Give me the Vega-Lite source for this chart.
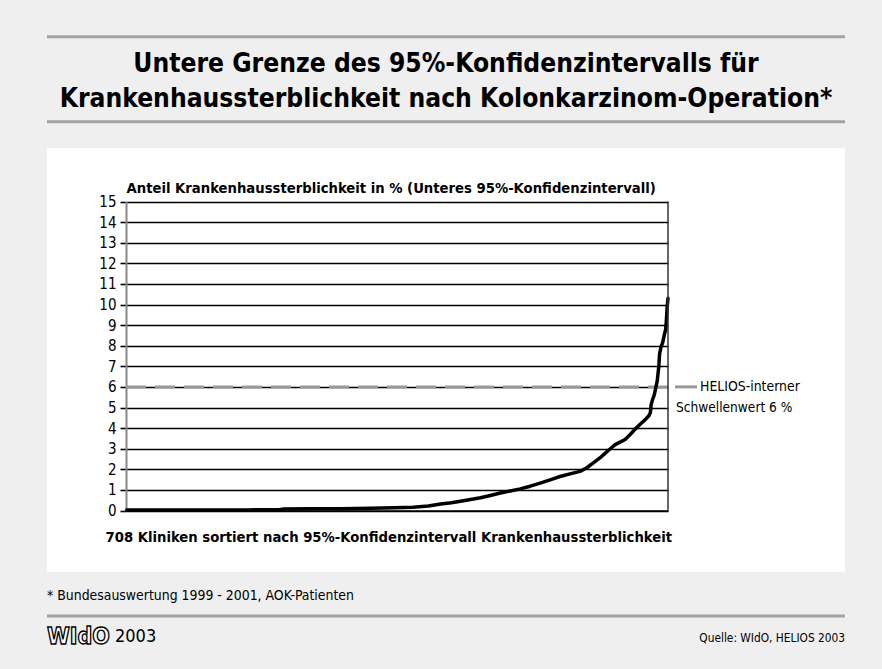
{
  "$schema": "https://vega.github.io/schema/vega-lite/v6.json",
  "width": 798,
  "height": 424,
  "autosize": {"type": "none"},
  "padding": {"left": 47, "top": 148, "right": 37, "bottom": 97},
  "background": "#efefef",
  "config": {
    "view": {"fill": "white", "stroke": null},
    "font": "Liberation Sans Narrow, DejaVu Sans Condensed, Arial Narrow, sans-serif",
    "text": {"font": "Liberation Sans Narrow, DejaVu Sans Condensed, Arial Narrow, sans-serif", "color": "black"},
    "axisY": {
      "tickCount": 16,
      "labelOverlap": false,
      "grid": true, "gridColor": "black", "gridWidth": 1.6, "gridOpacity": 1,
      "domainColor": "#888888", "domainWidth": 2,
      "tickColor": "black", "tickSize": 6, "tickWidth": 1.6,
      "labelFontSize": 15, "labelColor": "black", "labelPadding": 4,
      "titleAngle": 0, "titleAlign": "left", "titleBaseline": "alphabetic",
      "titleX": 0, "titleY": 44,
      "titleFontSize": 14.7, "titleFontWeight": "bold", "titleColor": "black"
    },
    "axisX": {
      "ticks": false, "labels": false, "grid": false,
      "domainColor": "black", "domainWidth": 1.6,
      "titleX": 58, "titleY": 31, "titleAlign": "left", "titleBaseline": "alphabetic",
      "titleFontSize": 14.7, "titleFontWeight": "bold", "titleColor": "black"
    }
  },
  "datasets": {
    "curve": [
      {"klinik": 1, "wert": 0.02}, {"klinik": 40, "wert": 0.02}, {"klinik": 80, "wert": 0.03},
      {"klinik": 120, "wert": 0.03}, {"klinik": 160, "wert": 0.03}, {"klinik": 200, "wert": 0.04},
      {"klinik": 206, "wert": 0.07}, {"klinik": 240, "wert": 0.08}, {"klinik": 280, "wert": 0.09},
      {"klinik": 320, "wert": 0.11}, {"klinik": 350, "wert": 0.13}, {"klinik": 375, "wert": 0.16},
      {"klinik": 395, "wert": 0.22}, {"klinik": 411, "wert": 0.32}, {"klinik": 425, "wert": 0.38},
      {"klinik": 437, "wert": 0.45}, {"klinik": 450, "wert": 0.53}, {"klinik": 463, "wert": 0.62},
      {"klinik": 476, "wert": 0.73}, {"klinik": 489, "wert": 0.85}, {"klinik": 502, "wert": 0.95},
      {"klinik": 515, "wert": 1.05}, {"klinik": 528, "wert": 1.18}, {"klinik": 541, "wert": 1.33},
      {"klinik": 554, "wert": 1.49}, {"klinik": 567, "wert": 1.65}, {"klinik": 580, "wert": 1.78},
      {"klinik": 593, "wert": 1.9}, {"klinik": 601, "wert": 2.05}, {"klinik": 610, "wert": 2.3},
      {"klinik": 619, "wert": 2.55}, {"klinik": 625, "wert": 2.75}, {"klinik": 631, "wert": 2.95},
      {"klinik": 639, "wert": 3.2}, {"klinik": 646, "wert": 3.33}, {"klinik": 652, "wert": 3.45},
      {"klinik": 659, "wert": 3.7}, {"klinik": 665, "wert": 3.95}, {"klinik": 672, "wert": 4.2},
      {"klinik": 678, "wert": 4.4}, {"klinik": 683, "wert": 4.6}, {"klinik": 685, "wert": 4.75},
      {"klinik": 686, "wert": 5.15}, {"klinik": 688, "wert": 5.4}, {"klinik": 690, "wert": 5.6},
      {"klinik": 692, "wert": 5.95}, {"klinik": 694, "wert": 6.3}, {"klinik": 696, "wert": 7.0},
      {"klinik": 697, "wert": 7.6}, {"klinik": 699, "wert": 7.95}, {"klinik": 701, "wert": 8.15},
      {"klinik": 703, "wert": 8.5}, {"klinik": 705, "wert": 8.8}, {"klinik": 706, "wert": 9.3},
      {"klinik": 707, "wert": 9.9}, {"klinik": 708, "wert": 10.3}
    ],
    "one": [{}]
  },
  "layer": [
    {
      "data": {"name": "one"},
      "mark": {"type": "rule", "color": "#999999", "strokeWidth": 3, "strokeDash": [20, 9]},
      "encoding": {
        "x": {
          "datum": 0, "type": "quantitative",
          "scale": {"domain": [0, 708], "range": [79, 621], "nice": false, "zero": false},
          "axis": {
            "orient": "bottom", "offset": -61.5,
            "title": "708 Kliniken sortiert nach 95%-Konfidenzintervall Krankenhaussterblichkeit"
          }
        },
        "x2": {"datum": 708},
        "y": {
          "datum": 6, "type": "quantitative",
          "scale": {"domain": [0, 15], "range": [362.5, 53.5], "nice": false, "zero": false},
          "axis": {
            "orient": "left", "offset": -79, "tickCount": 16,
            "values": [0, 1, 2, 3, 4, 5, 6, 7, 8, 9, 10, 11, 12, 13, 14, 15],
            "title": "Anteil Krankenhaussterblichkeit in % (Unteres 95%-Konfidenzintervall)"
          }
        }
      }
    },
    {
      "data": {"name": "curve"},
      "mark": {"type": "line", "color": "black", "strokeWidth": 3.5, "strokeJoin": "round", "strokeCap": "round"},
      "encoding": {
        "x": {
          "field": "klinik", "type": "quantitative",
          "scale": {"domain": [0, 708], "range": [79, 621], "nice": false, "zero": false},
          "axis": {
            "orient": "bottom", "offset": -61.5,
            "title": "708 Kliniken sortiert nach 95%-Konfidenzintervall Krankenhaussterblichkeit"
          }
        },
        "y": {
          "field": "wert", "type": "quantitative",
          "scale": {"domain": [0, 15], "range": [362.5, 53.5], "nice": false, "zero": false},
          "axis": {
            "orient": "left", "offset": -79, "tickCount": 16,
            "values": [0, 1, 2, 3, 4, 5, 6, 7, 8, 9, 10, 11, 12, 13, 14, 15],
            "title": "Anteil Krankenhaussterblichkeit in % (Unteres 95%-Konfidenzintervall)"
          }
        }
      }
    },
    {
      "data": {"name": "one"},
      "mark": {"type": "rule", "color": "#333333", "strokeWidth": 1.5},
      "encoding": {
        "x": {"datum": 708, "type": "quantitative"},
        "y": {"datum": 0, "type": "quantitative"},
        "y2": {"datum": 15}
      }
    },
    {
      "data": {"name": "one"},
      "mark": {"type": "rule", "color": "#999999", "strokeWidth": 3, "xOffset": 7, "x2Offset": 29},
      "encoding": {
        "x": {"datum": 708, "type": "quantitative"},
        "x2": {"datum": 708},
        "y": {"datum": 6, "type": "quantitative"}
      }
    },
    {
      "data": {"name": "one"},
      "mark": {"type": "text", "text": "HELIOS-interner", "align": "left", "baseline": "middle", "dx": 32, "fontSize": 13.9},
      "encoding": {
        "x": {"datum": 708, "type": "quantitative"},
        "y": {"datum": 6, "type": "quantitative"}
      }
    },
    {
      "data": {"name": "one"},
      "mark": {"type": "text", "text": "Schwellenwert 6 %", "align": "left", "baseline": "middle", "dx": 8, "dy": 21, "fontSize": 13.6},
      "encoding": {
        "x": {"datum": 708, "type": "quantitative"},
        "y": {"datum": 6, "type": "quantitative"}
      }
    },
    {
      "data": {"name": "one"},
      "mark": {"type": "rule", "color": "#a3a3a3", "strokeWidth": 3, "yOffset": -164.7},
      "encoding": {"y": {"datum": 15, "type": "quantitative"}}
    },
    {
      "data": {"name": "one"},
      "mark": {"type": "rule", "color": "#a3a3a3", "strokeWidth": 3, "yOffset": -79.7},
      "encoding": {"y": {"datum": 15, "type": "quantitative"}}
    },
    {
      "data": {"name": "one"},
      "mark": {"type": "rule", "color": "#a3a3a3", "strokeWidth": 3, "yOffset": 105.5},
      "encoding": {"y": {"datum": 0, "type": "quantitative"}}
    },
    {
      "data": {"name": "one"},
      "mark": {
        "type": "text", "text": ["Untere Grenze des 95%-Konfidenzintervalls für", "Krankenhaussterblichkeit nach Kolonkarzinom-Operation*"],
        "align": "center", "baseline": "alphabetic", "dy": -129.5, "lineHeight": 35,
        "fontSize": 26.2, "fontWeight": "bold"
      },
      "encoding": {"y": {"datum": 15, "type": "quantitative"}}
    },
    {
      "data": {"name": "one"},
      "mark": {"type": "text", "text": "* Bundesauswertung 1999 - 2001, AOK-Patienten", "align": "left", "baseline": "middle", "dx": -79, "dy": 85.5, "fontSize": 13.9},
      "encoding": {
        "x": {"datum": 0, "type": "quantitative"},
        "y": {"datum": 0, "type": "quantitative"}
      }
    },
    {
      "data": {"name": "one"},
      "mark": {"type": "text", "text": "WIdO", "align": "left", "baseline": "middle", "dx": -79, "dy": 126.5, "fontSize": 23, "fontWeight": "bold", "fill": "white", "stroke": "black", "strokeWidth": 1.3},
      "encoding": {
        "x": {"datum": 0, "type": "quantitative"},
        "y": {"datum": 0, "type": "quantitative"}
      }
    },
    {
      "data": {"name": "one"},
      "mark": {"type": "text", "text": "2003", "align": "left", "baseline": "middle", "dx": -11, "dy": 126.5, "fontSize": 18},
      "encoding": {
        "x": {"datum": 0, "type": "quantitative"},
        "y": {"datum": 0, "type": "quantitative"}
      }
    },
    {
      "data": {"name": "one"},
      "mark": {"type": "text", "text": "Quelle: WIdO, HELIOS 2003", "align": "right", "baseline": "middle", "dx": 177, "dy": 127.5, "fontSize": 11.8},
      "encoding": {
        "x": {"datum": 708, "type": "quantitative"},
        "y": {"datum": 0, "type": "quantitative"}
      }
    }
  ]
}
